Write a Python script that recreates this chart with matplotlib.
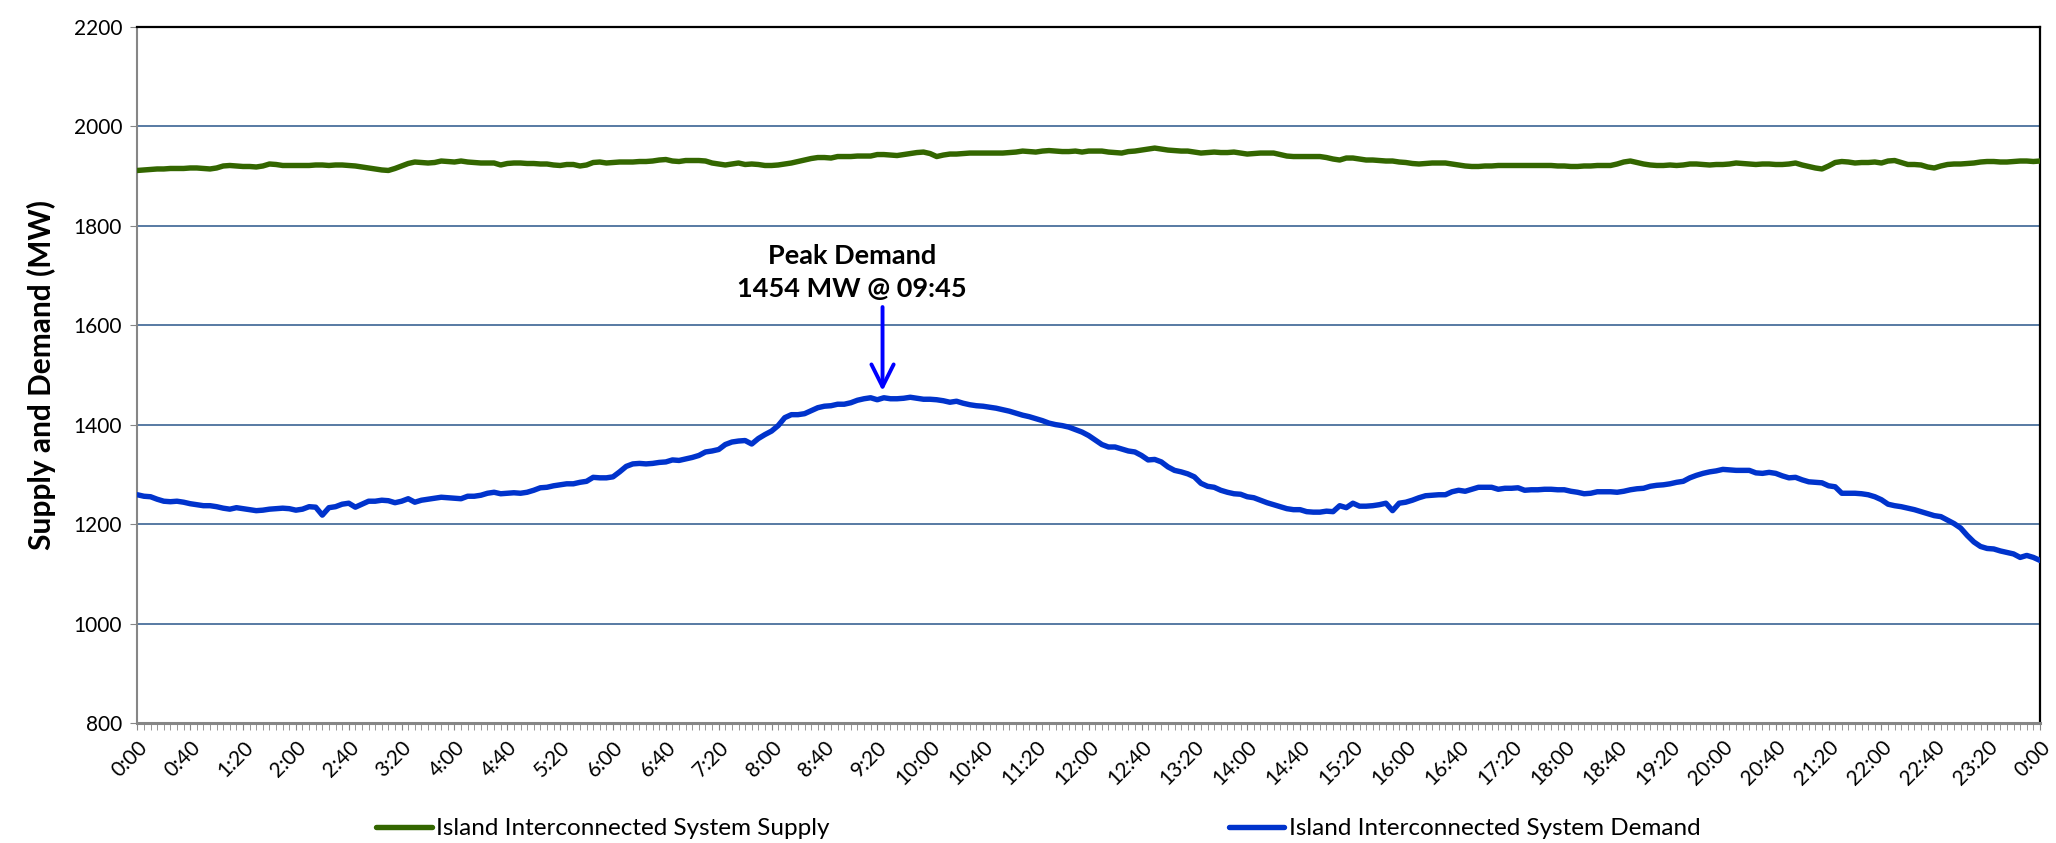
import numpy as np
import matplotlib
matplotlib.use("Agg")
import matplotlib.pyplot as plt
from matplotlib.ticker import MultipleLocator

plt.rcParams['font.family'] = ['Lato', 'DejaVu Sans']

# 5-minute readings, one row per hour, plus the closing 0:00 value
demand = [
    1259, 1256, 1255, 1250, 1246, 1245, 1246, 1244, 1241, 1239, 1237, 1237,
    1235, 1232, 1230, 1233, 1231, 1229, 1227, 1228, 1230, 1231, 1232, 1231,
    1228, 1230, 1235, 1234, 1218, 1233, 1235, 1240, 1242, 1234, 1240, 1246,
    1246, 1248, 1247, 1243, 1246, 1251, 1244, 1248, 1250, 1252, 1254, 1253,
    1252, 1251, 1256, 1256, 1258, 1262, 1264, 1261, 1262, 1263, 1262, 1264,
    1268, 1273, 1274, 1277, 1279, 1281, 1281, 1284, 1286, 1294, 1293, 1293,
    1295, 1305, 1316, 1321, 1322, 1321, 1322, 1324, 1325, 1329, 1328, 1331,
    1334, 1338, 1345, 1347, 1350, 1360, 1365, 1367, 1368, 1361, 1372, 1380,
    1387, 1398, 1414, 1420, 1420, 1422, 1428, 1434, 1437, 1438, 1441, 1441,
    1444, 1449, 1452, 1454, 1450, 1454, 1452, 1452, 1453, 1455, 1453, 1451,
    1451, 1450, 1448, 1445, 1447, 1443, 1440, 1438, 1437, 1435, 1433, 1430,
    1427, 1423, 1419, 1416, 1412, 1408, 1403, 1400, 1398, 1395, 1390, 1385,
    1378, 1369, 1360, 1355, 1355, 1351, 1347, 1345, 1338, 1329, 1330, 1325,
    1315, 1308, 1305, 1301, 1295, 1282, 1276, 1274, 1268, 1264, 1261, 1260,
    1255, 1253, 1248, 1243, 1239, 1235, 1231, 1229, 1229, 1225, 1224, 1224,
    1226, 1225, 1237, 1233, 1242, 1236, 1236, 1237, 1239, 1242, 1227, 1242,
    1244, 1248, 1253, 1257, 1258, 1259, 1259, 1265, 1268, 1266, 1270, 1274,
    1274, 1274, 1270, 1272, 1272, 1273, 1268, 1269, 1269, 1270, 1270, 1269,
    1269, 1266, 1264, 1261, 1262, 1265, 1265, 1265, 1264, 1266, 1269, 1271,
    1272, 1276, 1278, 1279, 1281, 1284, 1286, 1293, 1298, 1302, 1305, 1307,
    1310, 1309, 1308, 1308, 1308, 1303, 1302, 1304, 1302, 1297, 1293, 1294,
    1289, 1285, 1284, 1283, 1277, 1275, 1262, 1262, 1262, 1261, 1259, 1255,
    1249, 1240, 1237, 1235, 1232, 1229, 1225, 1221, 1217, 1215, 1208, 1201,
    1192, 1177, 1164, 1155, 1151, 1150, 1146, 1143, 1140, 1133, 1137, 1133,
    1127,
]

supply = [
    1911, 1912, 1913, 1914, 1914, 1915, 1915, 1915, 1916, 1916, 1915, 1914,
    1916, 1920, 1921, 1920, 1919, 1919, 1918, 1920, 1924, 1923, 1921, 1921,
    1921, 1921, 1921, 1922, 1922, 1921, 1922, 1922, 1921, 1920, 1918, 1916,
    1914, 1912, 1911, 1915, 1920, 1925, 1928, 1927, 1926, 1927, 1930, 1929,
    1928, 1930, 1928, 1927, 1926, 1926, 1926, 1922, 1925, 1926, 1926, 1925,
    1925, 1924, 1924, 1922, 1921, 1923, 1923, 1920, 1922, 1927, 1928, 1926,
    1927, 1928, 1928, 1928, 1929, 1929, 1930, 1932, 1933, 1930, 1929, 1931,
    1931, 1931, 1930, 1926, 1924, 1922, 1924, 1926, 1923, 1924, 1923, 1921,
    1921, 1922, 1924, 1926, 1929, 1932, 1935, 1937, 1937, 1936, 1939, 1939,
    1939, 1940, 1940, 1940, 1943, 1943, 1942, 1941, 1943, 1945, 1947, 1948,
    1945, 1939, 1942, 1944, 1944, 1945, 1946, 1946, 1946, 1946, 1946, 1946,
    1947, 1948, 1950, 1949, 1948, 1950, 1951, 1950, 1949, 1949, 1950, 1948,
    1950, 1950, 1950, 1948, 1947, 1946, 1949, 1950, 1952, 1954, 1956, 1954,
    1952, 1951, 1950, 1950, 1948, 1946, 1947, 1948, 1947, 1947, 1948, 1946,
    1944, 1945, 1946, 1946, 1946, 1943, 1940, 1939, 1939, 1939, 1939, 1939,
    1937, 1934, 1932, 1936, 1936, 1934, 1932, 1932, 1931, 1930, 1930, 1928,
    1927, 1925, 1924, 1925, 1926, 1926, 1926, 1924, 1922, 1920, 1919, 1919,
    1920, 1920, 1921, 1921, 1921, 1921, 1921, 1921, 1921, 1921, 1921, 1920,
    1920, 1919, 1919, 1920, 1920, 1921, 1921, 1921, 1924, 1928, 1930, 1927,
    1924, 1922, 1921, 1921, 1922, 1921, 1922, 1924, 1924, 1923, 1922, 1923,
    1923, 1924, 1926, 1925, 1924, 1923, 1924, 1924, 1923, 1923, 1924, 1926,
    1922, 1919, 1916, 1914, 1920, 1927, 1929, 1928, 1926, 1927, 1927, 1928,
    1926, 1930, 1931, 1927, 1923, 1923, 1922, 1918, 1916, 1920, 1923, 1924,
    1924, 1925, 1926, 1928, 1929, 1929, 1928, 1928, 1929, 1930, 1930, 1929,
    1930,
]

minutes = np.arange(len(demand)) * 5
label_minutes = np.arange(0, 1441, 40)
tick_labels = [f"{(m // 60) % 24}:{m % 60:02d}" for m in label_minutes]

peak_minute = 564
peak_text = "Peak Demand\n1454 MW @ 09:45"

fig = plt.figure(figsize=(20.56, 8.43), dpi=100)
ax = fig.add_axes([0.0668, 0.1423, 0.9254, 0.826])

ax.plot(minutes, supply, color='#336600', lw=3.9, solid_capstyle='round',
        label='Island Interconnected System Supply', zorder=3)
ax.plot(minutes, demand, color='#0033cc', lw=3.9, solid_capstyle='round',
        label='Island Interconnected System Demand', zorder=3)

ax.set_xlim(0, 1440)
ax.set_ylim(800, 2200)
ax.yaxis.set_major_locator(MultipleLocator(200))
ax.set_xticks(label_minutes)
ax.set_xticklabels(tick_labels, rotation=45, ha='right', rotation_mode='anchor')
ax.xaxis.set_minor_locator(MultipleLocator(5))

ax.grid(axis='y', color='#4a6f9c', lw=1.3, zorder=1)
ax.tick_params(axis='y', labelsize=15, length=5, color='#868686', pad=6)
ax.tick_params(axis='x', which='both', labelsize=15, length=5, color='#868686',
               direction='out', pad=5)

for side in ['left', 'bottom']:
    ax.spines[side].set_color('#868686')
ax.spines['left'].set_linewidth(1.5)
ax.spines['bottom'].set_linewidth(2.2)
ax.spines['top'].set_color('black')
ax.spines['right'].set_color('black')
ax.spines['top'].set_linewidth(1.6)
ax.spines['right'].set_linewidth(1.6)

ax.set_ylabel('Supply and Demand (MW)', fontsize=21.5, fontweight='bold')
ax.yaxis.set_label_coords(-0.043, 0.5)

ax.annotate('', xy=(peak_minute, 1462), xytext=(peak_minute, 1642),
            arrowprops=dict(arrowstyle='->,head_length=0.8,head_width=0.4',
                            color='#0000ff', lw=2.8, mutation_scale=20))
ax.text(541, 1706, peak_text, ha='center', va='center', fontsize=19.5,
        fontweight='bold', linespacing=1.45)

fig.legend(loc='center', bbox_to_anchor=(0.505, 0.017), ncol=2, frameon=False,
           fontsize=17.5, handlelength=2.3, handletextpad=0.2, columnspacing=16.4)

fig.savefig('out.png', dpi=100)
